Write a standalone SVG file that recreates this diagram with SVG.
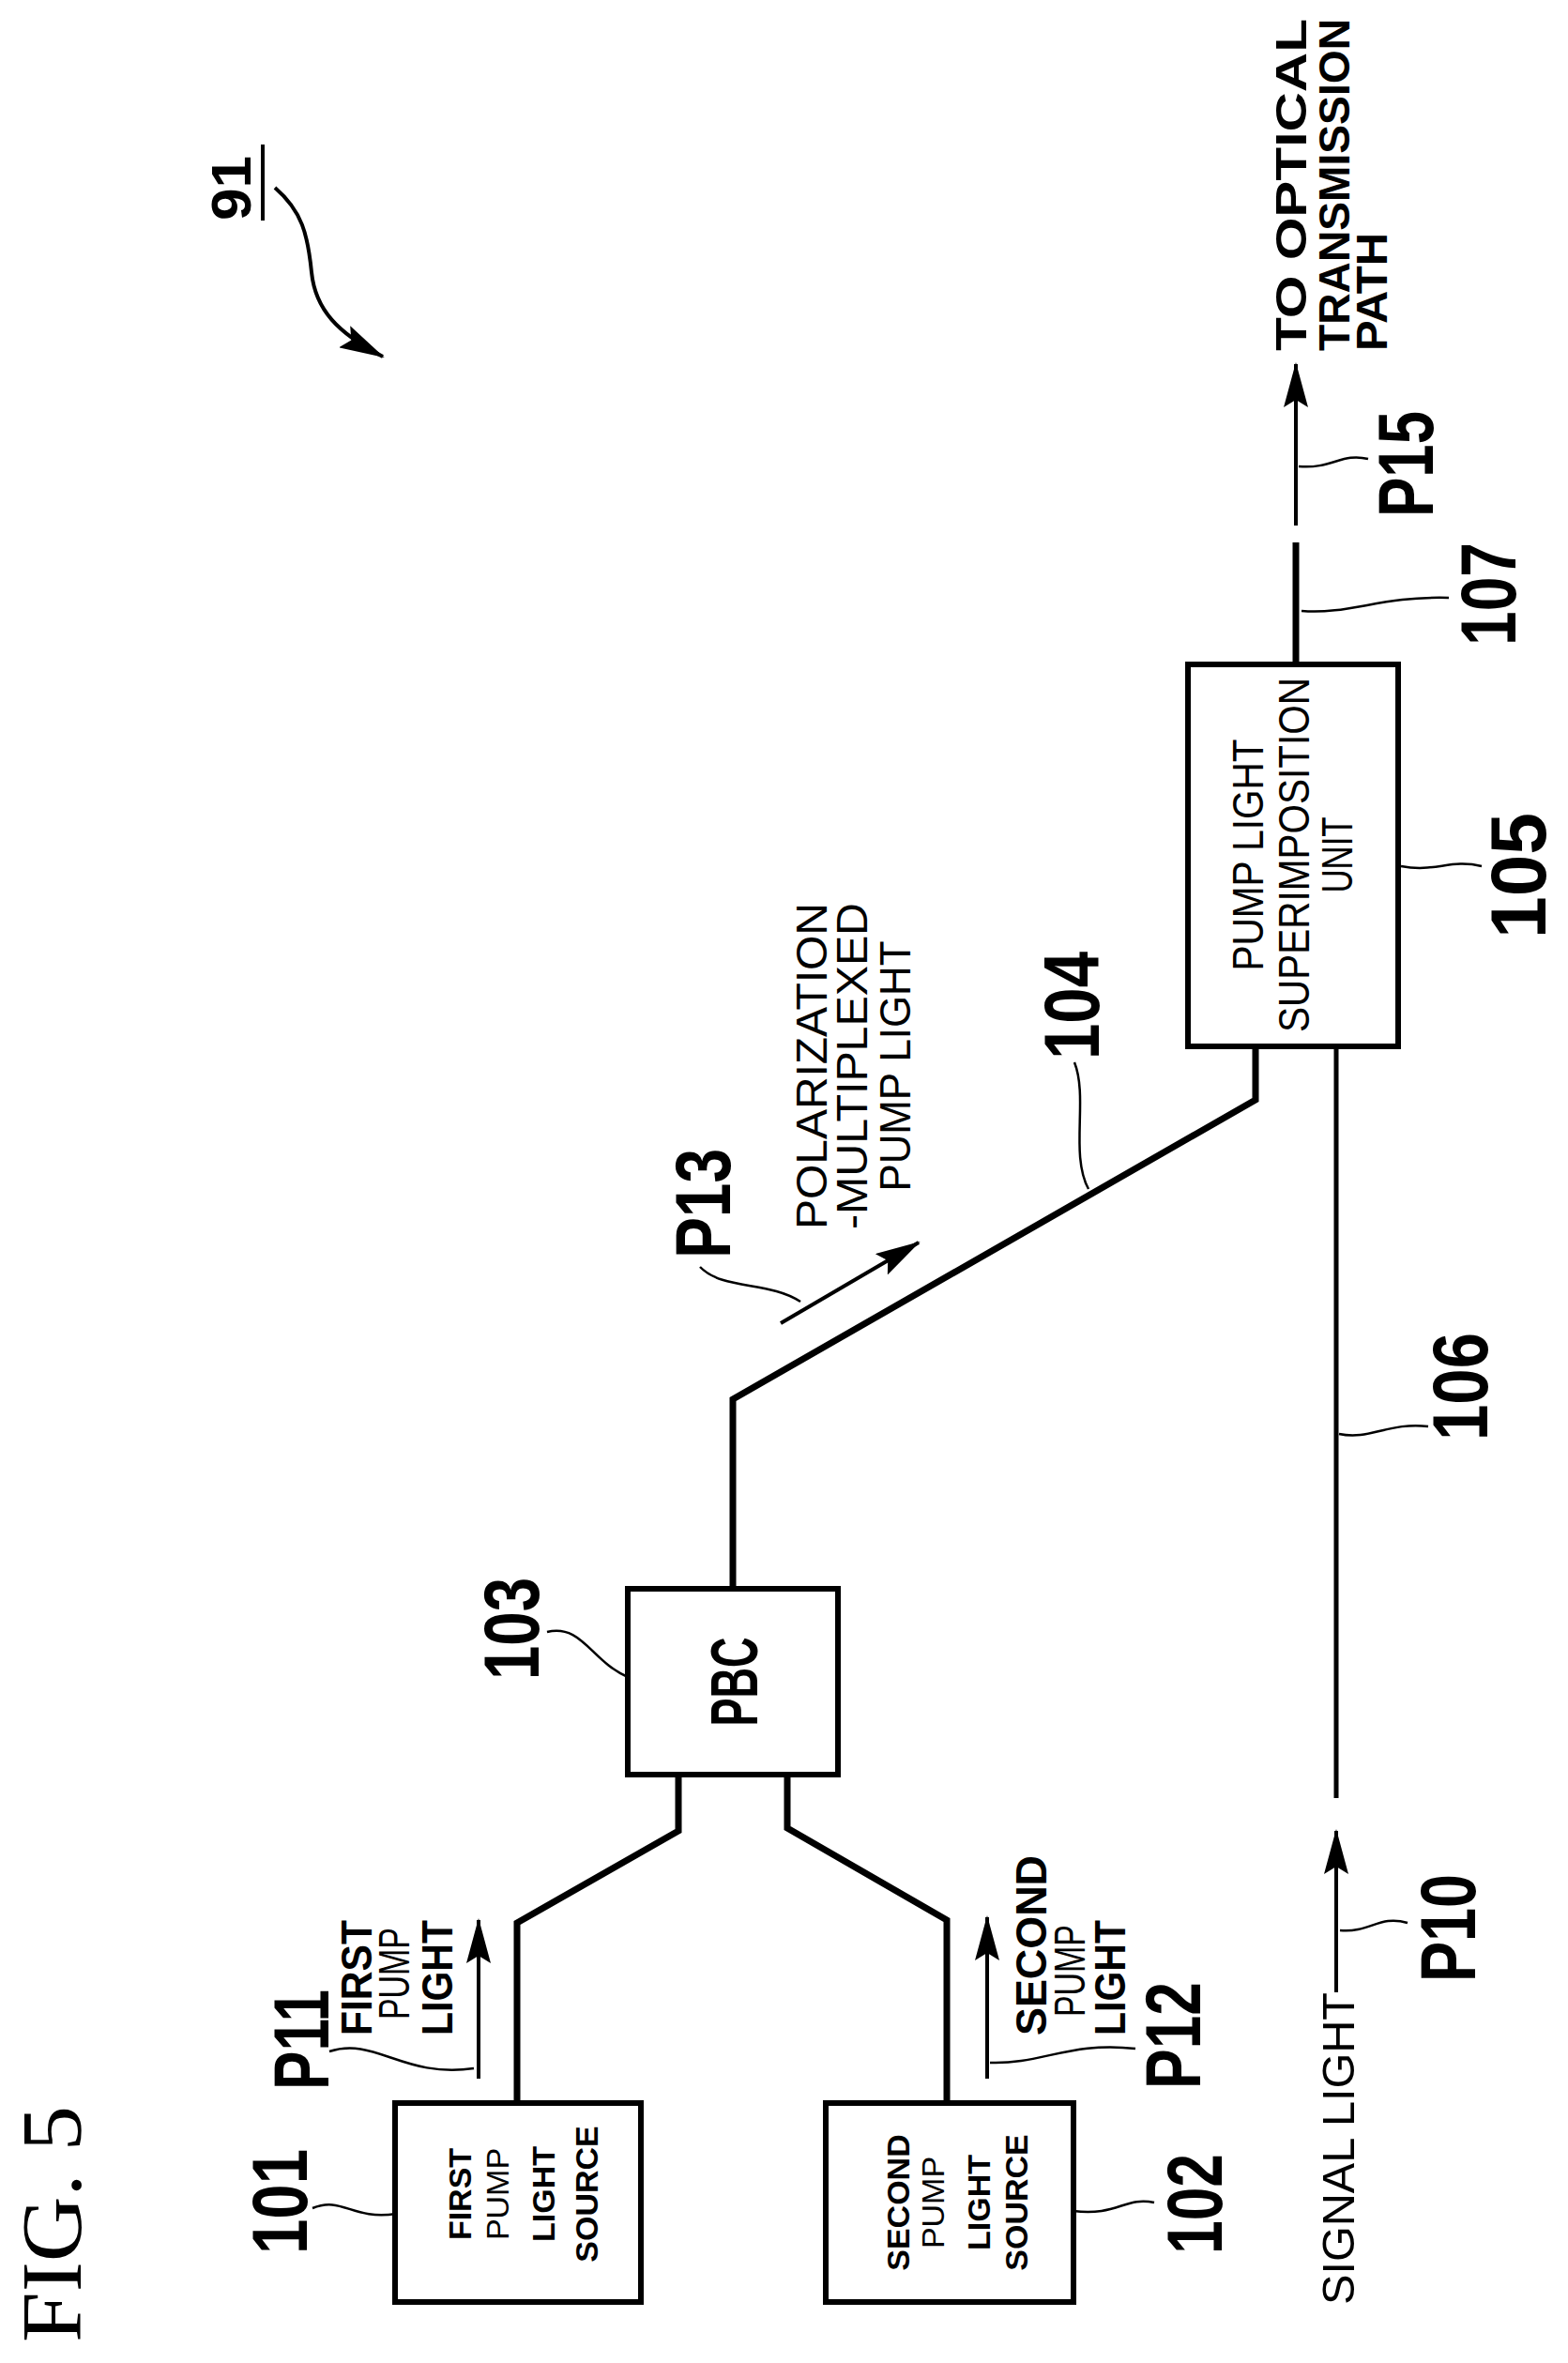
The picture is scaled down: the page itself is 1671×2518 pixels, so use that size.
<svg xmlns="http://www.w3.org/2000/svg" width="1671" height="2518" viewBox="0 0 1671 2518">
<defs>
<style>
.box{fill:#fff;stroke:#000;stroke-width:6}
.fib{fill:none;stroke:#000;stroke-width:7;stroke-linejoin:miter}
.arr{fill:none;stroke:#000;stroke-width:4}
.ld{fill:none;stroke:#000;stroke-width:2.5}
text{font-family:"Liberation Sans",Arial,sans-serif;fill:#000}
.num{font-size:84px;font-weight:bold}
.lab{font-size:46px}
.b{font-weight:bold}
.bx{font-size:34px;font-weight:bold;text-anchor:middle}
.bxn{font-size:34px;text-anchor:middle}
.mid{text-anchor:middle}
</style>
<marker id="ah" viewBox="0 0 48 26" refX="46" refY="13" markerWidth="48" markerHeight="26" markerUnits="userSpaceOnUse" orient="auto">
<path d="M0,0 L48,13 L0,26 L8,13 z" fill="#000"/>
</marker>
</defs>
<rect width="1671" height="2518" fill="#fff"/>

<text transform="translate(86 2496) rotate(-90)" style="font-family:'Liberation Serif',serif;font-size:92px" textLength="252" lengthAdjust="spacingAndGlyphs">FIG. 5</text>

<g id="n91">
<text class="num" transform="translate(267 235) rotate(-90)" textLength="69" lengthAdjust="spacingAndGlyphs" style="font-size:60px">91</text>
<line x1="280" y1="154" x2="280" y2="235" stroke="#000" stroke-width="4"/>
</g>

<g id="connectors">
<path class="fib" d="M551,2241 V2049 L723,1951 V1891"/>
<path class="fib" d="M1009,2241 V2046 L839,1948 V1891"/>
<path class="fib" d="M781,1693 V1491 L1338,1172 V1115"/>
<path class="fib" style="stroke-width:5" d="M1424,1916 V1115"/>
<path class="fib" d="M1381,708 V578"/>
<line class="arr" x1="510" y1="2215" x2="510" y2="2046" marker-end="url(#ah)"/>
<line class="arr" x1="1052" y1="2215" x2="1052" y2="2043" marker-end="url(#ah)"/>
<line class="arr" x1="1424" y1="2123" x2="1424" y2="1951" marker-end="url(#ah)"/>
<line class="arr" x1="1381" y1="560" x2="1381" y2="388" marker-end="url(#ah)"/>
<line class="arr" x1="832" y1="1410" x2="979" y2="1324" marker-end="url(#ah)"/>
<path class="arr" d="M293,200 C322,225 328,250 332,290 C336,330 360,355 408,380" marker-end="url(#ah)"/>
<!-- leaders -->
<path class="ld" d="M333,2353 C365,2340 375,2366 422,2359"/>
<path class="ld" d="M351,2186 C400,2170 430,2215 505,2204"/>
<path class="ld" d="M1230,2347 C1200,2340 1190,2362 1144,2356"/>
<path class="ld" d="M1055,2198 C1110,2200 1140,2175 1210,2183"/>
<path class="ld" d="M583,1739 C620,1730 630,1770 669,1787"/>
<path class="ld" d="M1428,2057 C1460,2060 1470,2040 1500,2049"/>
<path class="ld" d="M1427,1528 C1460,1535 1480,1515 1522,1520"/>
<path class="ld" d="M746,1350 C770,1375 820,1365 853,1387"/>
<path class="ld" d="M1145,1132 C1160,1170 1140,1230 1160,1267"/>
<path class="ld" d="M1493,923 C1530,930 1545,915 1579,923"/>
<path class="ld" d="M1387,651 C1440,655 1470,635 1544,637"/>
<path class="ld" d="M1384,497 C1420,500 1430,482 1458,489"/>
</g>

<g id="n101">
<rect class="box" x="421" y="2241" width="262" height="212"/>
<text class="bx" transform="translate(502 2338) rotate(-90)">FIRST</text>
<text class="bxn" transform="translate(542 2338) rotate(-90)">PUMP</text>
<text class="bx" transform="translate(591 2338) rotate(-90)">LIGHT</text>
<text class="bx" transform="translate(637 2338) rotate(-90)">SOURCE</text>
<text class="num" transform="translate(327 2402) rotate(-90)" textLength="112" lengthAdjust="spacingAndGlyphs">101</text>
</g>

<g id="n102">
<rect class="box" x="880" y="2241" width="264" height="212"/>
<text class="bx" transform="translate(969 2347) rotate(-90)">SECOND</text>
<text class="bxn" transform="translate(1006 2347) rotate(-90)">PUMP</text>
<text class="bx" transform="translate(1055 2347) rotate(-90)">LIGHT</text>
<text class="bx" transform="translate(1095 2347) rotate(-90)">SOURCE</text>
<text class="num" transform="translate(1302 2402) rotate(-90)" textLength="107" lengthAdjust="spacingAndGlyphs">102</text>
</g>

<g id="n103">
<rect class="box" x="669" y="1693" width="224" height="198"/>
<text class="mid b" transform="translate(807 1792) rotate(-90)" style="font-size:70px" textLength="95" lengthAdjust="spacingAndGlyphs">PBC</text>
<text class="num" transform="translate(574 1790) rotate(-90)" textLength="109" lengthAdjust="spacingAndGlyphs">103</text>
</g>

<g id="n105">
<rect class="box" x="1266" y="708" width="224" height="407"/>
<text class="lab mid" transform="translate(1346 911) rotate(-90)" textLength="247" lengthAdjust="spacingAndGlyphs">PUMP LIGHT</text>
<text class="lab mid" transform="translate(1395 911) rotate(-90)" textLength="378" lengthAdjust="spacingAndGlyphs">SUPERIMPOSITION</text>
<text class="lab mid" transform="translate(1441 911) rotate(-90)" textLength="81" lengthAdjust="spacingAndGlyphs">UNIT</text>
<text class="num" transform="translate(1647 1000) rotate(-90)" textLength="134" lengthAdjust="spacingAndGlyphs">105</text>
</g>

<g id="labels">
<text class="num" transform="translate(350 2227) rotate(-90)" textLength="107" lengthAdjust="spacingAndGlyphs">P11</text>
<text class="lab b" transform="translate(396 2169) rotate(-90)" textLength="123" lengthAdjust="spacingAndGlyphs">FIRST</text>
<text class="lab" transform="translate(436 2152) rotate(-90)" textLength="98" lengthAdjust="spacingAndGlyphs">PUMP</text>
<text class="lab b" transform="translate(482 2169) rotate(-90)" textLength="123" lengthAdjust="spacingAndGlyphs">LIGHT</text>

<text class="num" transform="translate(1279 2226) rotate(-90)" textLength="114" lengthAdjust="spacingAndGlyphs">P12</text>
<text class="lab b" transform="translate(1115 2169) rotate(-90)" textLength="192" lengthAdjust="spacingAndGlyphs">SECOND</text>
<text class="lab" transform="translate(1156 2149) rotate(-90)" textLength="98" lengthAdjust="spacingAndGlyphs">PUMP</text>
<text class="lab b" transform="translate(1199 2169) rotate(-90)" textLength="123" lengthAdjust="spacingAndGlyphs">LIGHT</text>

<text class="lab" transform="translate(1443 2456) rotate(-90)" style="font-size:48px" textLength="333" lengthAdjust="spacingAndGlyphs">SIGNAL LIGHT</text>
<text class="num" transform="translate(1572 2112) rotate(-90)" textLength="115" lengthAdjust="spacingAndGlyphs">P10</text>
<text class="num" transform="translate(1585 1535) rotate(-90)" textLength="115" lengthAdjust="spacingAndGlyphs">106</text>

<text class="lab mid" transform="translate(881 1136) rotate(-90)" textLength="348" lengthAdjust="spacingAndGlyphs">POLARIZATION</text>
<text class="lab mid" transform="translate(924 1136) rotate(-90)" textLength="348" lengthAdjust="spacingAndGlyphs">-MULTIPLEXED</text>
<text class="lab mid" transform="translate(970 1136) rotate(-90)" textLength="267" lengthAdjust="spacingAndGlyphs">PUMP LIGHT</text>
<text class="num" transform="translate(778 1341) rotate(-90)" textLength="117" lengthAdjust="spacingAndGlyphs">P13</text>
<text class="num" transform="translate(1171 1129) rotate(-90)" textLength="115" lengthAdjust="spacingAndGlyphs">104</text>

<text class="num" transform="translate(1615 688) rotate(-90)" textLength="110" lengthAdjust="spacingAndGlyphs">107</text>
<text class="num" transform="translate(1527 551) rotate(-90)" textLength="113" lengthAdjust="spacingAndGlyphs">P15</text>
<text class="lab b" transform="translate(1392 374) rotate(-90)" textLength="354" lengthAdjust="spacingAndGlyphs">TO OPTICAL</text>
<text class="lab b" transform="translate(1438 374) rotate(-90)" textLength="354" lengthAdjust="spacingAndGlyphs">TRANSMISSION</text>
<text class="lab b" transform="translate(1478 374) rotate(-90)" textLength="126" lengthAdjust="spacingAndGlyphs">PATH</text>
</g>
</svg>
